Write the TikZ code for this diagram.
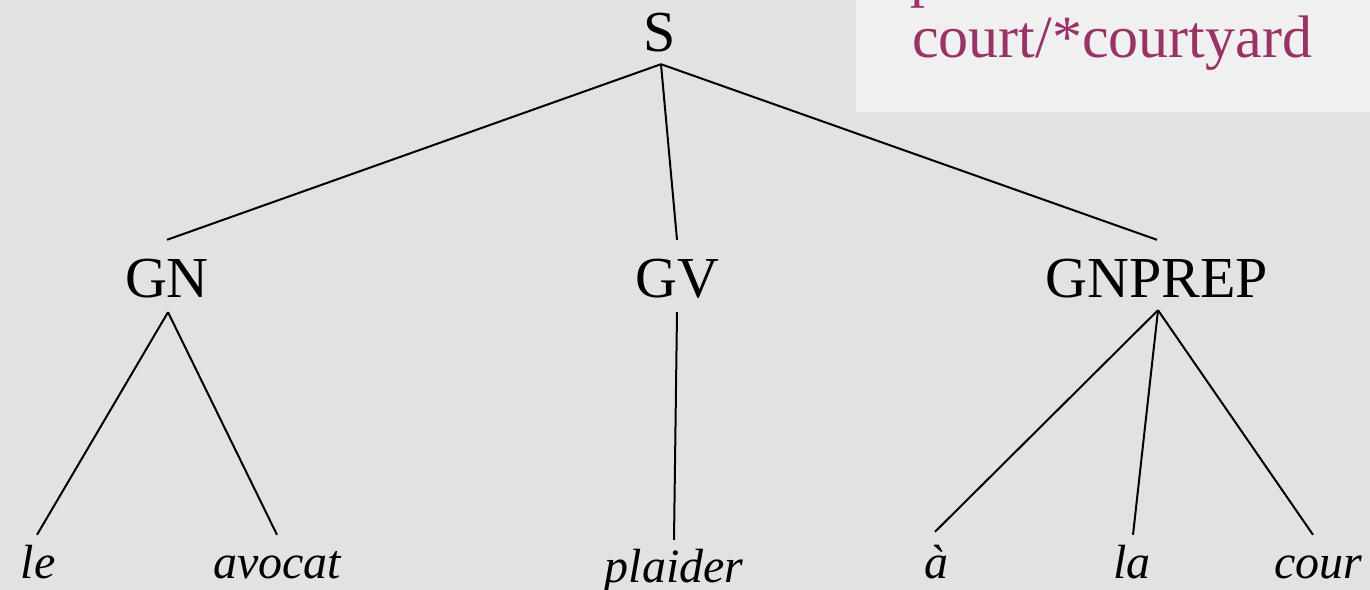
\documentclass[tikz,border=0pt]{standalone}
\usepackage{fontspec}
\setmainfont{Liberation Serif}
\definecolor{bgmarble}{RGB}{226,226,226}
\definecolor{bgbox}{RGB}{240,240,240}
\definecolor{maroon}{RGB}{153,51,102}
\tikzset{
  x=1bp, y=-1bp,
  cat/.style={inner sep=0pt, anchor=base, text height=38bp, text depth=0pt,
              font=\fontsize{58bp}{66bp}\selectfont},
  leaf/.style={inner sep=0pt, anchor=base, text height=33bp, text depth=0pt,
               font=\fontsize{48bp}{56bp}\selectfont\itshape},
  branch/.style={line width=2bp, black},
  note/.style={inner sep=0pt, anchor=base west, text=maroon,
               font=\fontsize{60bp}{68bp}\selectfont}
}
\begin{document}
\begin{tikzpicture}
\useasboundingbox (0,0) rectangle (1370,590);
\clip (0,0) rectangle (1370,590);
\fill[bgmarble] (0,0) rectangle (1370,590);
\fill[bgbox] (856,0) rectangle (1370,112);

\node[note] (p1) at (910,-4) {p};
\node[note] (note) at (912,58) {court/*courtyard};

\node[cat] (S) at (660,52) {S};
\node[cat] (GN) at (167,297) {GN};
\node[cat] (GV) at (677,297) {GV};
\node[cat] (GNPREP) at (1157,297) {GNPREP};

\node[leaf] (le) at (38,578) {le};
\node[leaf] (avocat) at (277,578) {avocat};
\node[leaf] (plaider) at (674,582) {plaider};
\node[leaf] (a) at (936,578) {à};
\node[leaf] (la) at (1132,578) {la};
\node[leaf] (cour) at (1318,578) {cour};

\draw[branch] ([xshift=1bp,yshift=-12bp]S.south) -- ([yshift=19bp]GN.north);
\draw[branch] ([xshift=1bp,yshift=-12bp]S.south) -- ([yshift=19bp]GV.north);
\draw[branch] ([xshift=1bp,yshift=-12bp]S.south) -- ([yshift=19bp]GNPREP.north);

\draw[branch] ([xshift=1bp,yshift=-15bp]GN.south) -- ([xshift=-1bp,yshift=10bp]le.north);
\draw[branch] ([xshift=1bp,yshift=-15bp]GN.south) -- ([yshift=10bp]avocat.north);
\draw[branch] ([yshift=-15bp]GV.south) -- ([yshift=9bp]plaider.north);
\draw[branch] ([xshift=1bp,yshift=-13bp]GNPREP.south) -- ([xshift=-1bp,yshift=13bp]a.north);
\draw[branch] ([xshift=1bp,yshift=-13bp]GNPREP.south) -- ([xshift=1bp,yshift=10bp]la.north);
\draw[branch] ([xshift=1bp,yshift=-13bp]GNPREP.south) -- ([xshift=-5bp,yshift=10bp]cour.north);
\end{tikzpicture}
\end{document}
